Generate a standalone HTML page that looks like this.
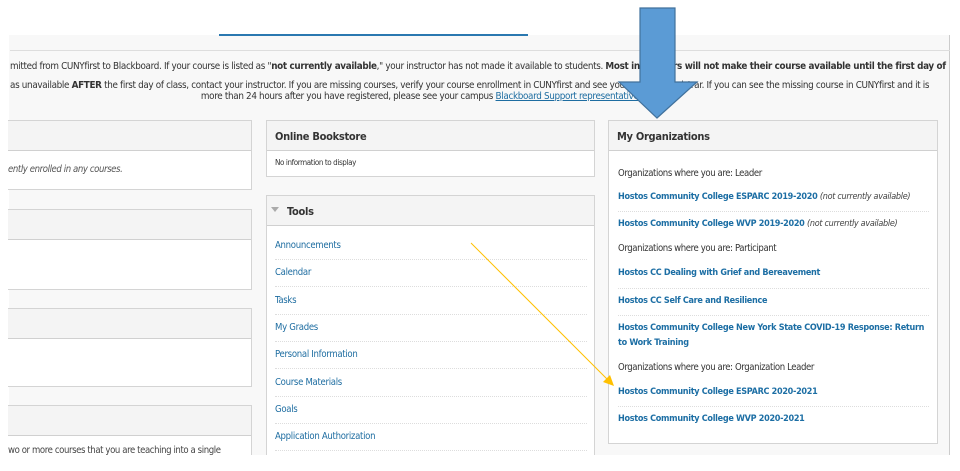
<!DOCTYPE html>
<html><head><meta charset="utf-8">
<style>
*{margin:0;padding:0;box-sizing:border-box}
body{width:960px;height:471px;background:#fff;position:relative;overflow:hidden;font-family:"DejaVu Sans Condensed","Liberation Sans",sans-serif;}
.bg{position:absolute;left:9px;top:35px;width:941px;height:420px;background:#f8f8f8}
.abs{position:absolute}
.box{position:absolute;background:#fff;border:1px solid #d4d4d4}
.hd{position:absolute;left:0;right:0;top:0;height:30px;background:#f4f4f4;border-bottom:1px solid #d0d0d0;font-weight:bold;font-size:11px;color:#333;padding:9px 8px;letter-spacing:-0.3px}
.t{position:absolute;font-size:9.5px;color:#333;white-space:nowrap;letter-spacing:-0.4px}
.it{position:absolute;font-size:9.8px;color:#333;white-space:nowrap;letter-spacing:-0.33px}
.lk{position:absolute;font-size:9.5px;color:#1e6da1;white-space:nowrap;letter-spacing:-0.3px}
.ob{position:absolute;font-size:9px;color:#1c6ea4;font-weight:bold;white-space:nowrap;letter-spacing:-0.3px}
.sep{position:absolute;height:0;border-top:1px dotted #ddd}
i{font-weight:normal;color:#444}
</style></head><body>
<div class="bg"></div>
<div class="abs" style="left:949px;top:35px;width:1px;height:420px;background:#ccc"></div>
<div class="abs" style="left:219px;top:34px;width:309px;height:2px;background:#2a78b0"></div>
<div class="abs" style="left:10px;top:50px;width:940px;height:1px;background:#ddd"></div>
<div class="it" style="left:10px;top:61px">mitted from CUNYfirst to Blackboard. If your course is listed as "<b>not currently available</b>," your instructor has not made it available to students. <b>Most instructors will not make their course available until the first day of</b></div>
<div class="it" style="left:10px;top:80px">as unavailable <b>AFTER</b> the first day of class, contact your instructor. If you are missing courses, verify your course enrollment in CUNYfirst and see your campus Registrar. If you can see the missing course in CUNYfirst and it is</div>
<div class="it" style="left:0;width:842px;text-align:center;top:91px">more than 24 hours after you have registered, please see your campus <span style="color:#1e6da1;text-decoration:underline">Blackboard Support representative</span>.</div>

<!-- left boxes -->
<div class="box" style="left:8px;top:120px;width:244px;height:70px;border-left:none"><div class="hd"></div><div class="t" style="left:0;top:43px;font-style:italic;color:#555">ently enrolled in any courses.</div></div>
<div class="box" style="left:8px;top:209px;width:244px;height:81px;border-left:none"><div class="hd"></div></div>
<div class="box" style="left:8px;top:308px;width:244px;height:79px;border-left:none"><div class="hd"></div></div>
<div class="box" style="left:8px;top:405px;width:244px;height:50px;border-left:none;border-bottom:none"><div class="hd"></div><div class="t" style="left:0;top:39px;color:#444">wo or more courses that you are teaching into a single</div></div>

<!-- middle -->
<div class="box" style="left:266px;top:120px;width:329px;height:57px"><div class="hd">Online Bookstore</div><div class="t" style="left:8px;top:37px;font-size:8px">No information to display</div></div>
<div class="box" style="left:266px;top:195px;width:329px;height:260px;border-bottom:none"><div class="hd" style="padding-left:20px">Tools<span style="position:absolute;left:4px;top:11px;width:0;height:0;border-left:4px solid transparent;border-right:4px solid transparent;border-top:5px solid #aaa"></span></div></div>
<div class="lk" style="left:275px;top:240px">Announcements</div>
<div class="lk" style="left:275px;top:267px">Calendar</div>
<div class="lk" style="left:275px;top:295px">Tasks</div>
<div class="lk" style="left:275px;top:322px">My Grades</div>
<div class="lk" style="left:275px;top:349px">Personal Information</div>
<div class="lk" style="left:275px;top:377px">Course Materials</div>
<div class="lk" style="left:275px;top:404px">Goals</div>
<div class="lk" style="left:275px;top:431px">Application Authorization</div>
<div class="sep" style="left:275px;width:312px;top:259px"></div>
<div class="sep" style="left:275px;width:312px;top:286px"></div>
<div class="sep" style="left:275px;width:312px;top:314px"></div>
<div class="sep" style="left:275px;width:312px;top:341px"></div>
<div class="sep" style="left:275px;width:312px;top:368px"></div>
<div class="sep" style="left:275px;width:312px;top:396px"></div>
<div class="sep" style="left:275px;width:312px;top:423px"></div>
<div class="sep" style="left:275px;width:312px;top:450px"></div>

<!-- right -->
<div class="box" style="left:608px;top:120px;width:330px;height:324px"><div class="hd">My Organizations</div></div>
<div class="t" style="left:618px;top:168px">Organizations where you are: Leader</div>
<div class="ob" style="left:618px;top:192px">Hostos Community College ESPARC 2019-2020 <i>(not currently available)</i></div>
<div class="sep" style="left:618px;width:311px;top:211px"></div>
<div class="ob" style="left:618px;top:219px">Hostos Community College WVP 2019-2020 <i>(not currently available)</i></div>
<div class="t" style="left:618px;top:243px">Organizations where you are: Participant</div>
<div class="ob" style="left:618px;top:268px">Hostos CC Dealing with Grief and Bereavement</div>
<div class="sep" style="left:618px;width:311px;top:288px"></div>
<div class="ob" style="left:618px;top:296px">Hostos CC Self Care and Resilience</div>
<div class="sep" style="left:618px;width:311px;top:315px"></div>
<div class="ob" style="left:618px;top:323px">Hostos Community College New York State COVID-19 Response: Return</div>
<div class="ob" style="left:618px;top:338px">to Work Training</div>
<div class="t" style="left:618px;top:362px">Organizations where you are: Organization Leader</div>
<div class="ob" style="left:618px;top:387px">Hostos Community College ESPARC 2020-2021</div>
<div class="sep" style="left:618px;width:311px;top:406px"></div>
<div class="ob" style="left:618px;top:414px">Hostos Community College WVP 2020-2021</div>

<svg class="abs" style="left:0;top:0" width="960" height="471">
<polygon points="640,8 675,8 675,82 697,82 657,118 619,82 640,82" fill="#5b9bd5" stroke="#41719c" stroke-width="1.2"/>
<line x1="471" y1="243" x2="607" y2="379" stroke="#ffc000" stroke-width="1"/>
<polygon points="614,386 603,382 610,375" fill="#ffc000"/>
</svg>
</body></html>
